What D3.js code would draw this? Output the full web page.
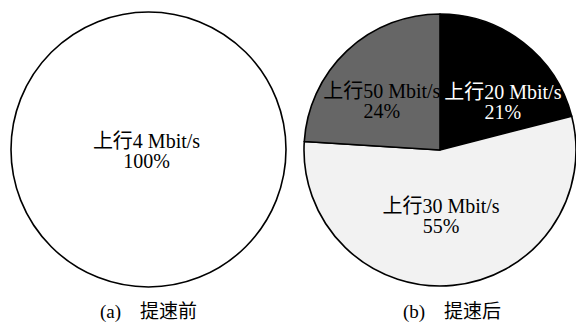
<!DOCTYPE html>
<html>
<head>
<meta charset="utf-8">
<script src="https://cdn.jsdelivr.net/npm/d3@7"></script>
<style>
  html, body { margin: 0; padding: 0; background: #fff; }
  svg { display: block; }
  text { font-family: "Liberation Serif", "Noto Sans CJK SC", serif; }
</style>
</head>
<body>
<script>
// Uplink-speed shares before and after the speed upgrade
const beforeLabels = ["上行4 Mbit/s"];
const beforeValues = [100];
const afterLabels = ["上行20 Mbit/s", "上行30 Mbit/s", "上行50 Mbit/s"];
const afterValues = [21, 55, 24];
const captions = ["(a)\u3000提速前", "(b)\u3000提速后"];

const W = 576, H = 324;
const svg = d3.select("body").append("svg").attr("width", W).attr("height", H);

const fillScale = d3.scaleOrdinal()
  .domain(afterLabels)
  .range(["#000000", "#f2f2f2", "#666666"]);
const textColor = d3.scaleOrdinal()
  .domain(afterLabels)
  .range(["#ffffff", "#000000", "#000000"]);

// label nudges (px) relative to the arc centroid
const labelNudge = [[17, 10], [-6, -9], [-7, 5]];

function drawPie(cx, cy, r, labels, values, fills, inks, nudges) {
  const data = labels.map((l, i) => ({ label: l, value: values[i] }));
  const pie = d3.pie().sort(null).value(d => d.value);
  const arc = d3.arc().innerRadius(0).outerRadius(r);
  const labelArc = d3.arc().innerRadius(r * 0.55).outerRadius(r * 0.55);
  const g = svg.append("g").attr("transform", `translate(${cx},${cy})`);
  const arcs = pie(data);

  g.selectAll("path").data(arcs).join("path")
    .attr("d", arc)
    .attr("fill", d => fills(d.data.label))
    .attr("stroke", "#000")
    .attr("stroke-width", 1.6)
    .attr("stroke-linejoin", "round");

  g.selectAll("text.lbl").data(arcs).join("text")
    .attr("class", "lbl")
    .attr("font-size", 20)
    .attr("text-anchor", "middle")
    .attr("fill", d => inks(d.data.label))
    .each(function (d, i) {
      const c = data.length === 1 ? [0, 0] : labelArc.centroid(d);
      const n = nudges[i] || [0, 0];
      const x = c[0] + n[0], y = c[1] + n[1];
      const t = d3.select(this);
      t.append("tspan").attr("x", x).attr("y", y - 2).text(d.data.label);
      t.append("tspan").attr("x", x).attr("y", y + 18).text(d.data.value + "%");
    });
}

drawPie(148.5, 149.5, 137.5, beforeLabels, beforeValues,
  () => "#ffffff", () => "#000000", [[-2, 0]]);
drawPie(440, 150, 136, afterLabels, afterValues, fillScale, textColor, labelNudge);

svg.selectAll("text.cap").data(captions).join("text")
  .attr("class", "cap")
  .attr("x", (d, i) => [148.5, 452][i])
  .attr("y", 318)
  .attr("text-anchor", "middle")
  .attr("font-size", 19)
  .text(d => d);
</script>
</body>
</html>
